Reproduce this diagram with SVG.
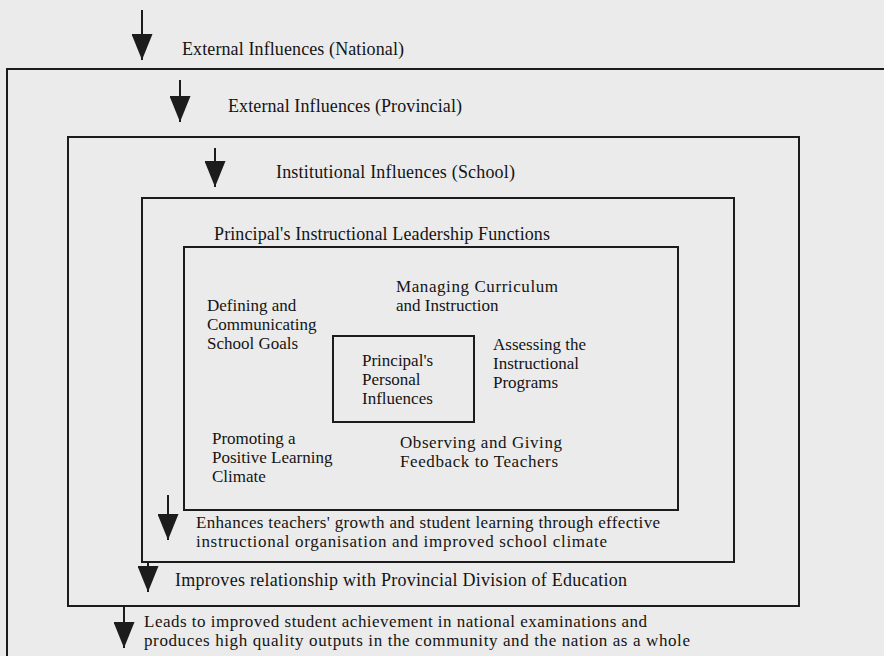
<svg xmlns="http://www.w3.org/2000/svg" width="884" height="656" viewBox="0 0 884 656">
<defs>
<style>
.bg{fill:#ebebeb}
.box{fill:none;stroke:#1c1c1c;stroke-width:2}
.lbl{font-family:"Liberation Serif","Times New Roman",serif;font-size:18px;fill:#141414}
.ml{font-size:17px}
.arw{stroke:#1c1c1c;stroke-width:2;fill:none;marker-end:url(#head)}
</style>
<marker id="head" viewBox="0 0 26 21" refX="26" refY="10.5" markerWidth="26" markerHeight="21" markerUnits="userSpaceOnUse" orient="auto">
<path d="M0,0 L26,10.5 L0,21 z" fill="#1c1c1c"/>
</marker>
</defs>
<rect class="bg" x="0" y="0" width="884" height="656"/>

<g id="national">
<path class="box" d="M7,700 V69 H900"/>
<text class="lbl" x="182" y="55" textLength="222" lengthAdjust="spacing">External Influences (National)</text>
</g>

<g id="provincial">
<rect class="box" x="68" y="137" width="731" height="469"/>
<text class="lbl" x="228" y="112" textLength="234" lengthAdjust="spacing">External Influences (Provincial)</text>
</g>

<g id="school">
<rect class="box" x="142" y="198" width="592" height="364"/>
<text class="lbl" x="276" y="178" textLength="239" lengthAdjust="spacing">Institutional Influences (School)</text>
</g>

<g id="functions">
<rect class="box" x="184" y="247" width="494" height="263"/>
<text class="lbl" x="214" y="240" textLength="336" lengthAdjust="spacing">Principal's Instructional Leadership Functions</text>
</g>

<g id="defining">
<text class="lbl ml" x="207" y="311"><tspan x="207" y="311">Defining and</tspan><tspan x="207" y="330">Communicating</tspan><tspan x="207" y="349">School Goals</tspan></text>
</g>

<g id="managing">
<text class="lbl ml" x="396" y="292"><tspan x="396" y="292" textLength="162" lengthAdjust="spacing">Managing Curriculum</tspan><tspan x="396" y="311">and Instruction</tspan></text>
</g>

<g id="personal">
<rect class="box" x="333" y="336" width="141" height="86"/>
<text class="lbl ml" x="362" y="366"><tspan x="362" y="366">Principal's</tspan><tspan x="362" y="385">Personal</tspan><tspan x="362" y="404">Influences</tspan></text>
</g>

<g id="assessing">
<text class="lbl ml" x="493" y="350"><tspan x="493" y="350">Assessing the</tspan><tspan x="493" y="369">Instructional</tspan><tspan x="493" y="388">Programs</tspan></text>
</g>

<g id="promoting">
<text class="lbl ml" x="212" y="444"><tspan x="212" y="444">Promoting a</tspan><tspan x="212" y="463">Positive Learning</tspan><tspan x="212" y="482">Climate</tspan></text>
</g>

<g id="observing">
<text class="lbl ml" x="400" y="448"><tspan x="400" y="448" textLength="162" lengthAdjust="spacing">Observing and Giving</tspan><tspan x="400" y="467" textLength="158" lengthAdjust="spacing">Feedback to Teachers</tspan></text>
</g>

<g id="enhances">
<text class="lbl ml" x="196" y="528"><tspan x="196" y="528" textLength="464" lengthAdjust="spacing">Enhances teachers' growth and student learning through effective</tspan><tspan x="196" y="547" textLength="411" lengthAdjust="spacing">instructional organisation and improved school climate</tspan></text>
</g>

<g id="improves">
<text class="lbl" x="175" y="586" textLength="452" lengthAdjust="spacing">Improves relationship with Provincial Division of Education</text>
</g>

<g id="leads">
<text class="lbl ml" x="144" y="627"><tspan x="144" y="627" textLength="503" lengthAdjust="spacing">Leads to improved student achievement in national examinations and</tspan><tspan x="144" y="646" textLength="546" lengthAdjust="spacing">produces high quality outputs in the community and the nation as a whole</tspan></text>
</g>

<g id="connectors">
<line class="arw" x1="142" y1="10" x2="142" y2="60"/>
<line class="arw" x1="180" y1="80" x2="180" y2="122"/>
<line class="arw" x1="215" y1="148" x2="215" y2="187"/>
<line class="arw" x1="168" y1="495" x2="168" y2="540"/>
<line class="arw" x1="148" y1="562" x2="148" y2="592"/>
<line class="arw" x1="124" y1="606" x2="124" y2="648"/>
</g>
</svg>
